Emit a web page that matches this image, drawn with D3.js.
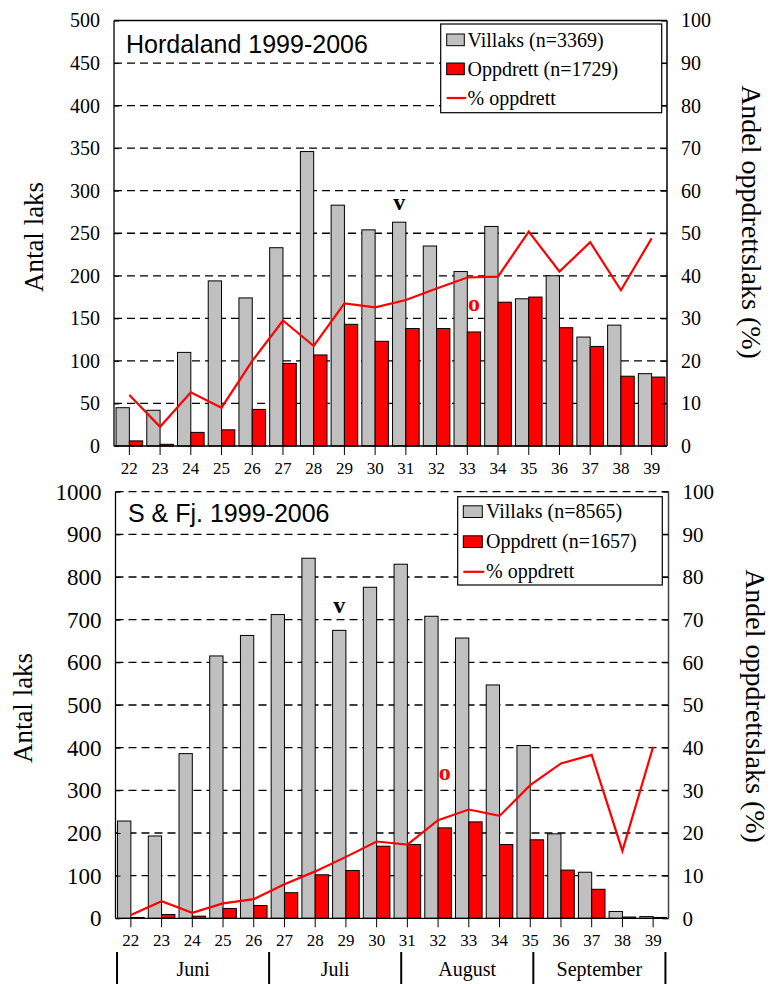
<!DOCTYPE html>
<html><head><meta charset="utf-8">
<script src="https://cdn.jsdelivr.net/npm/d3@7/dist/d3.min.js"></script>
<style>body{margin:0;background:#fff}svg{display:block}</style>
</head><body><svg id="c" width="773" height="984"></svg>
<script>
// ---------- data ----------
const weeks = [22,23,24,25,26,27,28,29,30,31,32,33,34,35,36,37,38,39];
const hordVillaks  = [45,42,110,194,174,233,346,283,254,263,235,205,258,173,200,128,142,85];
const hordOppdrett = [6,2,16,19,43,97,107,143,123,138,138,134,169,175,139,117,82,81];
const hordPct      = [12,4.5,12.6,9,20,29.5,23.5,33.5,32.6,34.3,37,39.6,39.8,50.4,41,47.9,36.6,48.8];
const sfVillaks    = [228,193,386,615,663,712,844,675,776,830,708,657,547,405,198,108,16,4];
const sfOppdrett   = [2,9,5,23,30,60,102,112,169,173,212,226,173,184,113,68,3,2];
const sfPct        = [0.8,4,1.3,3.5,4.5,8,11,14.4,18,17.3,23,25.5,24,31.2,36.3,38.3,15.8,40.2];
const hordTicks = [0,50,100,150,200,250,300,350,400,450,500];
const sfTicks   = [0,100,200,300,400,500,600,700,800,900,1000];
const pctTicks  = [0,10,20,30,40,50,60,70,80,90,100];
const months = ["Juni","Juli","August","September"];
const monthBounds = [21.55,26.5,30.8,35.1,39.4];
const legendHord = ["Villaks (n=3369)","Oppdrett (n=1729)","% oppdrett"];
const legendSF   = ["Villaks (n=8565)","Oppdrett (n=1657)","% oppdrett"];
const markersHord = [{week:31,series:"v",label:"v",value:277},{week:33,series:"o",label:"o",value:159}];
const markersSF   = [{week:29,series:"v",label:"v",value:715},{week:32,series:"o",label:"o",value:324}];

const SERIF = "'Liberation Serif','Times New Roman',serif";
const SANS = "'Liberation Sans',Arial,sans-serif";
const GRAY = "#c0c0c0", RED = "#ff0000";
const fmt = d3.format("d");
const svg = d3.select("#c");

function panel(o){
  const g = svg.append("g");
  const x = d3.scaleBand().domain(weeks).range([o.left,o.right]).paddingInner(0.134).paddingOuter(0.067);
  const xs = d3.scaleBand().domain(["v","o"]).range([0,x.bandwidth()]);
  const y = d3.scaleLinear().domain([0,o.yMax]).range([o.bottom,o.top]);
  const yp = d3.scaleLinear().domain([0,100]).range([o.bottom,o.top]);
  const cx = w => x(w)+x.bandwidth()/2;

  // gridlines
  g.append("g").selectAll("line").data(o.yTicks.filter(v=>v>0&&(o.dashTop||v<o.yMax))).join("line")
    .attr("x1",o.left).attr("x2",o.right).attr("y1",d=>y(d)).attr("y2",d=>y(d))
    .attr("stroke","#000").attr("stroke-width",1.3).attr("stroke-dasharray","8,5");

  // bars
  const rows = weeks.map((w,i)=>({w, v:o.villaks[i], o:o.oppdrett[i], p:o.pct[i]}));
  const bars = g.append("g");
  bars.selectAll("rect.v").data(rows).join("rect").attr("class","v")
    .attr("x",d=>x(d.w)+xs("v")).attr("width",xs.bandwidth())
    .attr("y",d=>y(d.v)).attr("height",d=>y(0)-y(d.v))
    .attr("fill",GRAY).attr("stroke","#000").attr("stroke-width",1);
  bars.selectAll("rect.o").data(rows).join("rect").attr("class","o")
    .attr("x",d=>x(d.w)+xs("o")).attr("width",xs.bandwidth())
    .attr("y",d=>y(d.o)).attr("height",d=>y(0)-y(d.o))
    .attr("fill",RED).attr("stroke","#000").attr("stroke-width",1);

  // frame
  const fr = g.append("g").attr("fill","none");
  fr.append("line").attr("x1",o.left).attr("x2",o.left).attr("y1",o.top).attr("y2",o.bottom).attr("stroke","#000").attr("stroke-width",1.3);
  fr.append("line").attr("x1",o.left).attr("x2",o.right).attr("y1",o.bottom).attr("y2",o.bottom).attr("stroke","#000").attr("stroke-width",1.3);
  fr.append("line").attr("x1",o.right).attr("x2",o.right).attr("y1",o.top).attr("y2",o.bottom).attr("stroke",o.rightColor).attr("stroke-width",1.5);
  if(!o.dashTop) fr.append("line").attr("x1",o.left).attr("x2",o.right).attr("y1",o.top).attr("y2",o.top).attr("stroke","#000").attr("stroke-width",1.3);

  // axes
  const ax = g.append("g").attr("transform",`translate(0,${o.bottom})`)
    .call(d3.axisBottom(x).tickSizeInner(9).tickSizeOuter(0).tickPadding(7));
  ax.select(".domain").remove();
  ax.selectAll("text").attr("font-family",SERIF).attr("font-size",17).attr("fill","#000");
  ax.selectAll("line").attr("stroke","#000");

  const ayl = g.append("g").attr("transform",`translate(${o.left},0)`)
    .call(d3.axisLeft(y).tickValues(o.yTicks).tickFormat(fmt).tickSizeInner(-5).tickSizeOuter(0).tickPadding(14));
  ayl.select(".domain").remove();
  ayl.selectAll("text").attr("font-family",SERIF).attr("font-size",o.leftFont).attr("fill","#000");
  ayl.selectAll("line").attr("stroke","#000");

  const ayr = g.append("g").attr("transform",`translate(${o.right},0)`)
    .call(d3.axisRight(yp).tickValues(pctTicks).tickFormat(fmt).tickSizeInner(-6).tickSizeOuter(0).tickPadding(14));
  ayr.select(".domain").remove();
  ayr.selectAll("text").attr("font-family",SERIF).attr("font-size",o.rightFont).attr("fill","#000");
  ayr.selectAll("line").attr("stroke","#000");

  // percent line
  g.append("path").datum(rows)
    .attr("d",d3.line().x(d=>cx(d.w)).y(d=>yp(d.p)))
    .attr("fill","none").attr("stroke",RED).attr("stroke-width",2.2).attr("stroke-linejoin","miter");

  // markers
  g.selectAll("text.mk").data(o.markers).join("text").attr("class","mk")
    .attr("x",d=>x(d.week)+xs(d.series)+xs.bandwidth()/2).attr("y",d=>y(d.value))
    .attr("text-anchor","middle").attr("font-family",SERIF).attr("font-weight","bold")
    .attr("font-size",24).attr("fill",d=>d.series==="v"?"#000":RED).text(d=>d.label);

  // legend
  const L = o.legend;
  const lg = g.append("g");
  lg.append("rect").attr("x",L.x).attr("y",L.y).attr("width",L.w).attr("height",L.h)
    .attr("fill","#fff").attr("stroke","#000").attr("stroke-width",1.2);
  lg.append("rect").attr("x",L.sx).attr("y",L.y+L.r0-12.5).attr("width",L.sw).attr("height",11.7)
    .attr("fill",GRAY).attr("stroke","#000");
  lg.append("rect").attr("x",L.sx).attr("y",L.y+L.r0+L.dy-12.5).attr("width",L.sw).attr("height",11.7)
    .attr("fill",RED).attr("stroke","#000");
  lg.append("line").attr("x1",L.sx).attr("x2",L.sx+L.sw+2).attr("y1",L.y+L.r0+2*L.dy-6.5).attr("y2",L.y+L.r0+2*L.dy-6.5)
    .attr("stroke",RED).attr("stroke-width",2.2);
  lg.selectAll("text").data(o.legendText).join("text")
    .attr("x",L.tx).attr("y",(d,i)=>L.y+L.r0+i*L.dy)
    .attr("font-family",SERIF).attr("font-size",20).attr("fill","#000").text(d=>d);

  // title
  g.append("text").attr("x",o.titleX).attr("y",o.titleY).attr("font-family",SANS).attr("font-size",25)
    .attr("fill","#000").text(o.title);

  // axis titles
  g.append("text").attr("transform",`translate(${o.ltx},${o.lty}) rotate(-90)`)
    .attr("text-anchor","middle").attr("dominant-baseline","central")
    .attr("font-family",SERIF).attr("font-size",27).attr("fill","#000").text("Antal laks");
  g.append("text").attr("transform",`translate(${o.rtx},${o.rty}) rotate(90)`)
    .attr("text-anchor","middle").attr("dominant-baseline","central")
    .attr("font-family",SERIF).attr("font-size",28).attr("fill","#000").text("Andel oppdrettslaks (%)");
  return {x};
}

panel({left:114,right:667,top:20.5,bottom:446,yMax:500,yTicks:hordTicks,dashTop:false,rightColor:"#000",
  villaks:hordVillaks,oppdrett:hordOppdrett,pct:hordPct,markers:markersHord,
  leftFont:20,rightFont:20,
  legend:{x:440.7,y:24,w:221,h:88.7,sx:446.7,sw:17.6,tx:467.5,r0:22.5,dy:29},legendText:legendHord,
  title:"Hordaland 1999-2006",titleX:126,titleY:53.3,ltx:34,lty:237,rtx:751,rty:222});

panel({left:115.5,right:668.5,top:491.7,bottom:918.3,yMax:1000,yTicks:sfTicks,dashTop:true,rightColor:"#444",
  villaks:sfVillaks,oppdrett:sfOppdrett,pct:sfPct,markers:markersSF,
  leftFont:23,rightFont:21,
  legend:{x:457.7,y:496.7,w:204.6,h:88.3,sx:463.3,sw:19,tx:486,r0:21.6,dy:30},legendText:legendSF,
  title:"S & Fj. 1999-2006",titleX:128,titleY:521.7,ltx:23,lty:708,rtx:755,rty:706});

// month axis under lower chart
const xm = d3.scaleLinear().domain([21.5,39.5]).range([115.5,668.5]);
const mg = svg.append("g");
mg.selectAll("line").data(monthBounds).join("line")
  .attr("x1",d=>xm(d)).attr("x2",d=>xm(d)).attr("y1",952).attr("y2",984)
  .attr("stroke","#000").attr("stroke-width",2);
mg.selectAll("text").data(months).join("text")
  .attr("x",(d,i)=>(xm(monthBounds[i])+xm(monthBounds[i+1]))/2).attr("y",976)
  .attr("text-anchor","middle").attr("font-family",SERIF).attr("font-size",20).attr("fill","#000").text(d=>d);
</script></body></html>
